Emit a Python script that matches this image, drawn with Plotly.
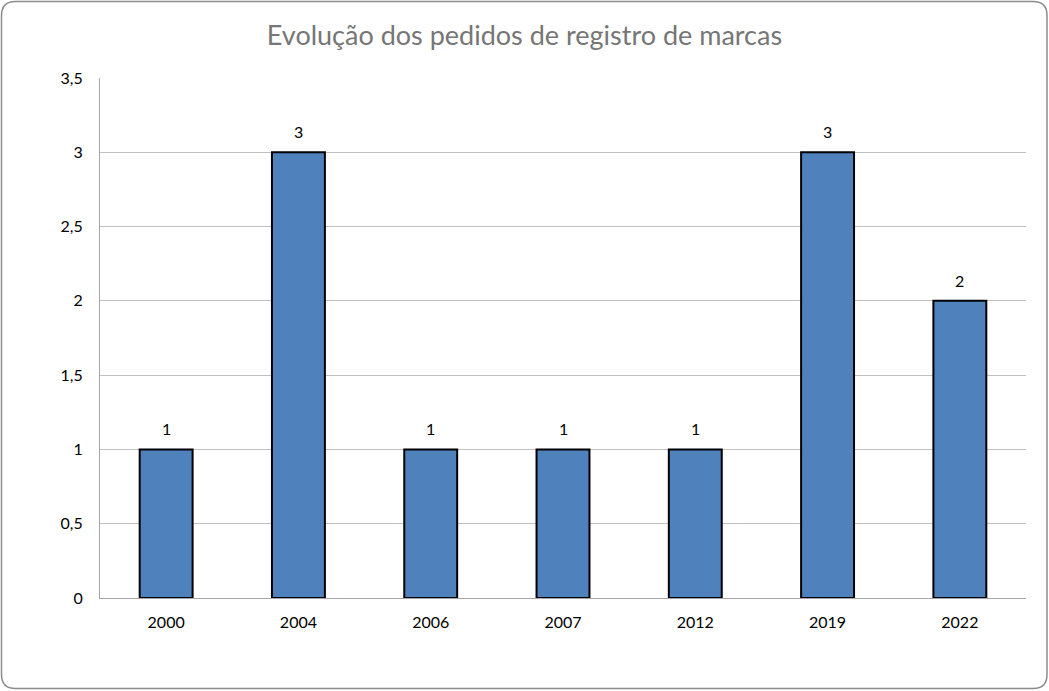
import plotly.graph_objects as go

years = ["2000", "2004", "2006", "2007", "2012", "2019", "2022"]
counts = [1, 3, 1, 1, 1, 3, 2]
y_ticks = [0, 0.5, 1, 1.5, 2, 2.5, 3, 3.5]
y_tick_labels = ["0", "0,5", "1", "1,5", "2", "2,5", "3", "3,5"]
title_text = "Evolução dos pedidos de registro de marcas"

W, H = 1049, 691
L, R, T, B = 100, 23, 78, 93
pw, ph = W - L - R, H - T - B

def px(x):
    return (x - L) / pw

def py(y):
    return (H - B - y) / ph

# rounded border path in paper coords
x0, x1, y0, y1, r = 1.5, 1047, 1.5, 688.5, 14
path = (
    f"M{px(x0 + r):.5f},{py(y0):.5f}L{px(x1 - r):.5f},{py(y0):.5f}"
    f"Q{px(x1):.5f},{py(y0):.5f} {px(x1):.5f},{py(y0 + r):.5f}"
    f"L{px(x1):.5f},{py(y1 - r):.5f}Q{px(x1):.5f},{py(y1):.5f} {px(x1 - r):.5f},{py(y1):.5f}"
    f"L{px(x0 + r):.5f},{py(y1):.5f}Q{px(x0):.5f},{py(y1):.5f} {px(x0):.5f},{py(y1 - r):.5f}"
    f"L{px(x0):.5f},{py(y0 + r):.5f}Q{px(x0):.5f},{py(y0):.5f} {px(x0 + r):.5f},{py(y0):.5f}Z"
)

fig = go.Figure()
fig.add_trace(go.Bar(
    x=years, y=counts,
    marker=dict(color="#4F81BD", line=dict(color="#000000", width=2)),
    hoverinfo="skip",
))

annotations = [
    dict(x=i, y=c, xref="x", yref="y", text=str(c), showarrow=False,
         yanchor="bottom", yshift=9, font=dict(family="Lato", size=16, color="#000000"))
    for i, c in enumerate(counts)
]

fig.update_layout(
    width=W, height=H,
    margin=dict(l=L, r=R, t=T, b=B, autoexpand=False),
    paper_bgcolor="white", plot_bgcolor="white",
    showlegend=False,
    bargap=0.6,
    title=dict(text=title_text, x=0.5, xref="container", xanchor="center",
               y=1 - 36 / H, yref="container", yanchor="middle",
               font=dict(family="Lato", size=27, color="#767676")),
    xaxis=dict(type="category", range=[-0.5, len(years) - 0.5], showgrid=False,
               showline=True, linecolor="#a6a6a6",
               linewidth=1, ticks="", tickfont=dict(family="Lato", size=16, color="#000000"),
               ticklabelstandoff=10, fixedrange=True),
    yaxis=dict(range=[0, 3.5], tickvals=y_ticks, ticktext=y_tick_labels,
               showgrid=True, gridcolor="#c0c0c0", gridwidth=1,
               showline=True, linecolor="#a6a6a6", linewidth=1, zeroline=False,
               ticks="", tickfont=dict(family="Lato", size=16, color="#000000"),
               ticklabelstandoff=13, fixedrange=True),
    annotations=annotations,
    shapes=[dict(type="path", path=path, xref="paper", yref="paper",
                 line=dict(color="#8c8c8c", width=1.5), fillcolor="rgba(0,0,0,0)",
                 layer="above")],
)

fig.write_html("out.html", config={"displayModeBar": False},
               post_script="document.body.style.margin='0';document.body.style.padding='0';")
